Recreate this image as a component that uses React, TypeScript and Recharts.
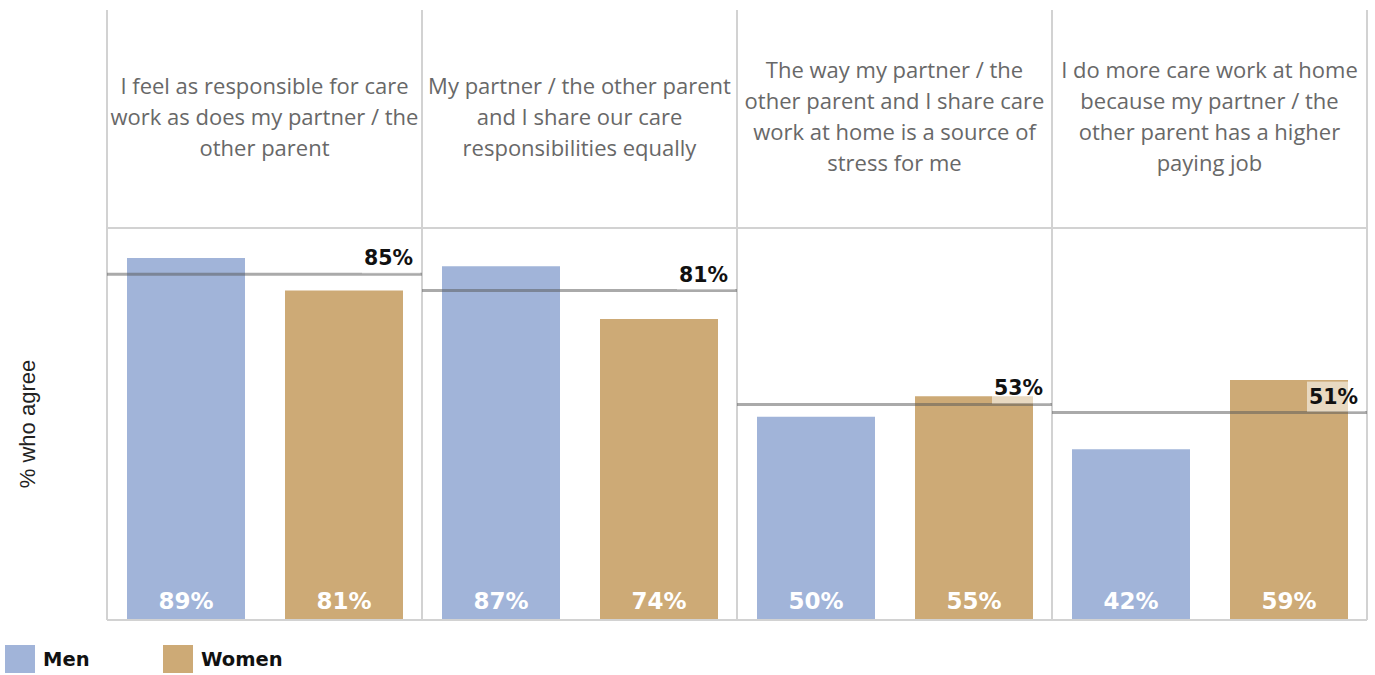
import { Bar, BarChart, CartesianGrid, LabelList, ReferenceLine, XAxis, YAxis } from "recharts";

const HEADERS = [
  ["I feel as responsible for care", "work as does my partner / the", "other parent"],
  ["My partner / the other parent", "and I share our care", "responsibilities equally"],
  ["The way my partner / the", "other parent and I share care", "work at home is a source of", "stress for me"],
  ["I do more care work at home", "because my partner / the", "other parent has a higher", "paying job"],
];
const MEN = [89, 87, 50, 42];
const WOMEN = [81, 74, 55, 59];
const TOTAL = [85, 81, 53, 51];
const GRID_TICKS = [10, 20, 30, 40, 50, 60, 70, 80, 90];

const W = 1375;
const H = 675;
const M = { top: 10, right: 8, bottom: 55, left: 0 };
const HEADER_H = 218;
const Y_MAX = 96.4;
const PLOT_H = H - M.top - M.bottom - HEADER_H;
// value at which the panel borders reach the top of the header area
const Y_TOP = (Y_MAX * (PLOT_H + HEADER_H)) / PLOT_H;

const MEN_COLOR = "#a1b4d9";
const WOMEN_COLOR = "#cdaa76";
const BORDER = "#d2d2d2";
const BOLD_FONT = "'DejaVu Sans', Verdana, sans-serif";

const rows = HEADERS.map((h, i) => ({ key: `q${i}`, pos: i + 0.5, men: MEN[i], women: WOMEN[i] }));

function HeaderTick(props: any) {
  const { x, index } = props;
  const lines = HEADERS[index] || [];
  const cy = M.top + HEADER_H / 2;
  const lh = 31;
  const y0 = cy - ((lines.length - 1) * lh) / 2;
  return (
    <text x={x} textAnchor="middle" fill="#686868" fontSize={22} fontFamily="'Open Sans', sans-serif">
      {lines.map((l: string, i: number) => (
        <tspan key={i} x={x} y={y0 + i * lh} dominantBaseline="middle">
          {l}
        </tspan>
      ))}
    </text>
  );
}

function ValueLabel(props: any) {
  const { x, y, width, height, value } = props;
  return (
    <text
      x={x + width / 2}
      y={y + height - 11}
      textAnchor="middle"
      fill="#fff"
      fontSize={23}
      fontWeight={700}
      fontFamily={BOLD_FONT}
    >
      {value}%
    </text>
  );
}

function TotalLabel(props: any) {
  const { viewBox, text } = props;
  if (!viewBox) return null;
  const right = viewBox.x + viewBox.width;
  const y = viewBox.y;
  return (
    <g>
      <rect x={right - 60} y={y - 31} width={58} height={30} fill="#fff" fillOpacity={0.55} />
      <text
        x={right - 9}
        y={y - 9}
        textAnchor="end"
        fill="#111"
        fontSize={20.5}
        fontWeight={700}
        fontFamily={BOLD_FONT}
      >
        {text}
      </text>
    </g>
  );
}

export default function App() {
  return (
    <div style={{ position: "absolute", left: 0, top: 0, width: W, height: H, background: "#fff" }}>
      <BarChart width={W} height={H} data={rows} margin={M} barSize={118} barGap={40}>
        <CartesianGrid horizontal vertical={false} stroke="#efefef" strokeWidth={1.5} />
        <XAxis
          dataKey="key"
          orientation="top"
          height={HEADER_H}
          axisLine={false}
          tickLine={false}
          interval={0}
          tick={<HeaderTick />}
        />
        <XAxis
          xAxisId="num"
          dataKey="pos"
          type="number"
          scale="linear"
          domain={[0, 4]}
          hide
          allowDataOverflow
        />
        <YAxis
          domain={[0, Y_MAX]}
          ticks={GRID_TICKS}
          width={107}
          tick={false}
          axisLine={false}
          tickLine={false}
          allowDataOverflow
          label={{
            value: "% who agree",
            angle: -90,
            position: "insideLeft",
            offset: 27,
            textAnchor: "middle",
            fill: "#222",
            fontSize: 22,
            fontFamily: "'Liberation Sans', Arial, sans-serif",
          }}
        />
        <Bar dataKey="men" name="Men" fill={MEN_COLOR} isAnimationActive={false}>
          <LabelList dataKey="men" content={<ValueLabel />} />
        </Bar>
        <Bar dataKey="women" name="Women" fill={WOMEN_COLOR} isAnimationActive={false}>
          <LabelList dataKey="women" content={<ValueLabel />} />
        </Bar>
        <ReferenceLine y={Y_MAX} stroke={BORDER} strokeWidth={2} />
        <ReferenceLine y={0} stroke={BORDER} strokeWidth={2} />
        {[0, 1, 2, 3, 4].map((i) => (
          <ReferenceLine
            key={`v${i}`}
            xAxisId="num"
            ifOverflow="visible"
            segment={[
              { x: i, y: 0 },
              { x: i, y: Y_TOP },
            ]}
            stroke={BORDER}
            strokeWidth={2}
          />
        ))}
        {TOTAL.map((t, i) => (
          <ReferenceLine
            key={`t${i}`}
            xAxisId="num"
            ifOverflow="visible"
            segment={[
              { x: i, y: t },
              { x: i + 1, y: t },
            ]}
            stroke="#555"
            strokeOpacity={0.5}
            strokeWidth={3}
            label={<TotalLabel text={`${t}%`} />}
          />
        ))}
      </BarChart>
      <div
        style={{
          position: "absolute",
          left: 5,
          top: 645,
          display: "flex",
          alignItems: "center",
          fontFamily: BOLD_FONT,
          fontWeight: 700,
          fontSize: 19.5,
          color: "#111",
        }}
      >
        {[
          { name: "Men", color: MEN_COLOR },
          { name: "Women", color: WOMEN_COLOR },
        ].map((it) => (
          <div key={it.name} style={{ display: "flex", alignItems: "center", width: 158 }}>
            <span style={{ display: "inline-block", width: 30, height: 28, background: it.color, marginRight: 8 }} />
            <span>{it.name}</span>
          </div>
        ))}
      </div>
    </div>
  );
}
